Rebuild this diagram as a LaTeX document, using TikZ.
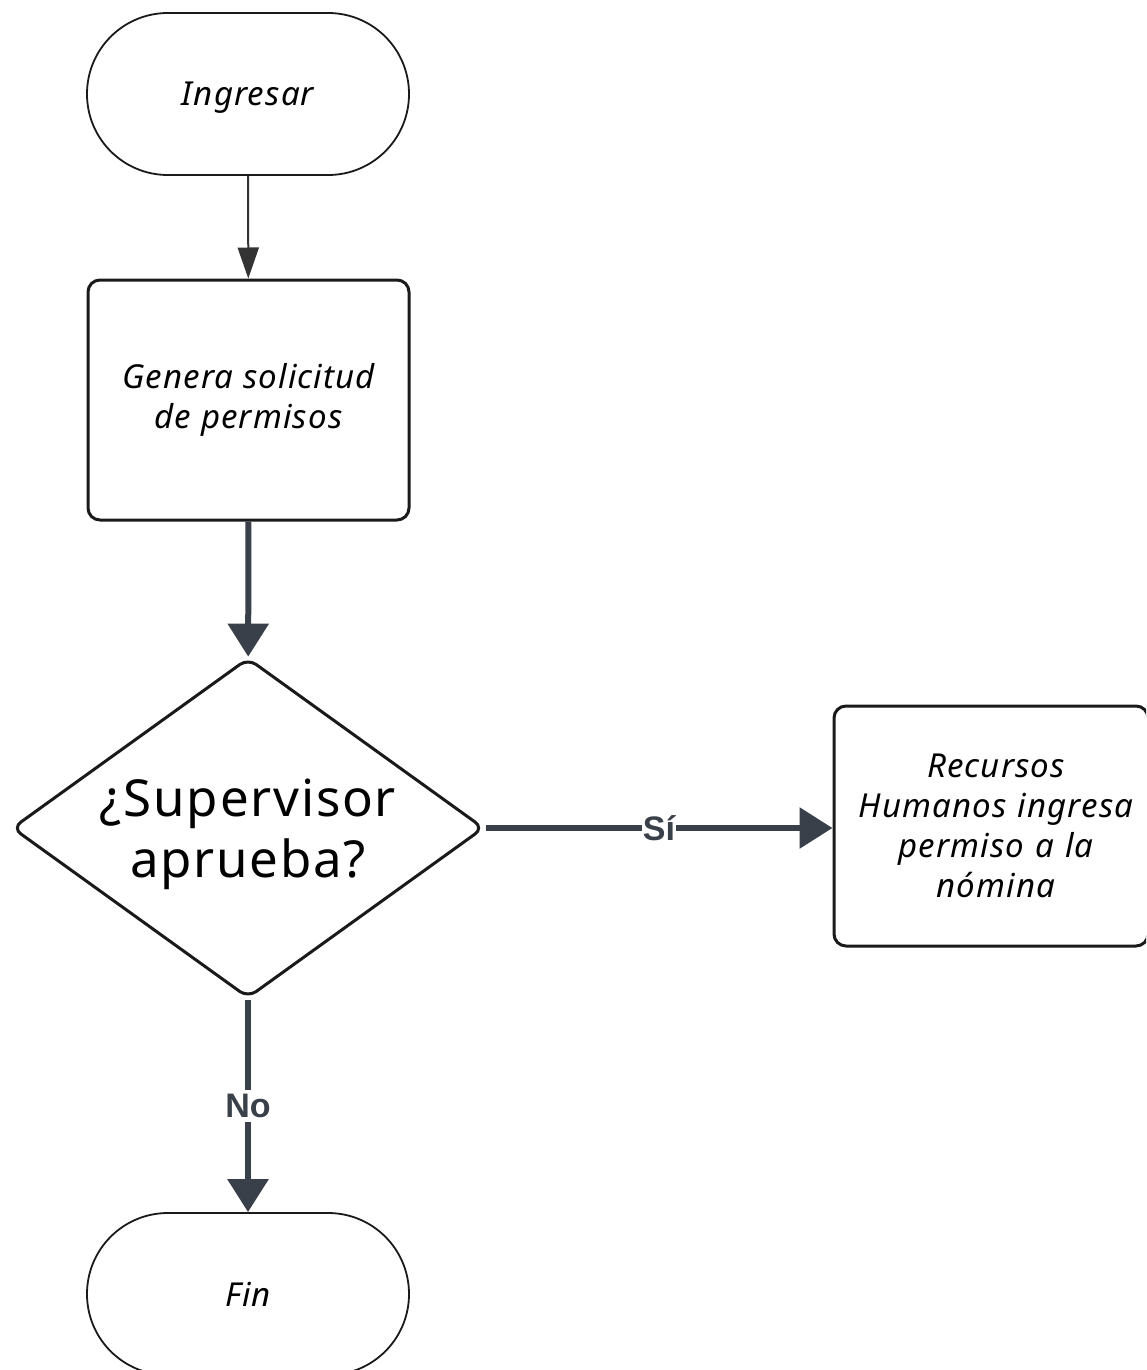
\documentclass[tikz,border=0pt]{standalone}
\usepackage{fontspec}
\setmainfont{Noto Sans}[LetterSpace=3.5]
\newfontfamily\labelfont{Liberation Sans}
\usetikzlibrary{arrows.meta,shapes.geometric}

\definecolor{edge}{HTML}{1A1A1A}
\definecolor{flow}{HTML}{3A4049}
\definecolor{thinflow}{HTML}{333333}

\tikzset{
  terminal/.style={draw=edge, line width=1.8pt, rectangle, rounded corners=80.9pt,
    minimum width=322pt, minimum height=162pt, inner sep=0pt, align=center,
    text depth=0pt, font=\fontsize{33}{40}\selectfont\itshape},
  process/.style={draw=edge, line width=3pt, rectangle, rounded corners=12pt,
    inner sep=0pt, align=center, font=\fontsize{33}{40}\selectfont\itshape},
  decision/.style={draw=edge, line width=3pt, diamond, rounded corners=10pt,
    shape aspect=1.39, minimum width=472pt, minimum height=340pt, inner sep=0pt,
    text depth=0pt, align=center, font=\fontsize{51}{61}\selectfont},
  thinarrow/.style={draw=thinflow, line width=2pt,
    -{Triangle[width=21pt,length=31pt]}},
  thickarrow/.style={draw=flow, line width=6pt,
    -{Triangle[width=40pt,length=33pt]}},
  flowlabel/.style={fill=white, text=flow, inner xsep=1pt, inner ysep=4pt,
    font=\labelfont\fontsize{34}{40}\selectfont\bfseries}
}

\begin{document}
\begin{tikzpicture}[x=1pt, y=-1pt]
  \useasboundingbox (0,0) rectangle (1146,1370);
  \clip (0,0) rectangle (1146,1370);

  % flow steps
  \node[terminal] (ing) at (248,94) {Ingresar};
  \node[process, minimum width=321pt, minimum height=240pt] (gen) at (248.5,400)
    {Genera solicitud\\de permisos};
  \node[decision] (dec) at (248,828) {¿Supervisor\\aprueba?};
  \node[process, minimum width=314pt, minimum height=240pt, text width=300pt] (rh) at (991,826)
    {\hspace*{10pt}Recursos\\\hspace*{10pt}Humanos ingresa\\\hspace*{10pt}permiso a la\\\hspace*{10pt}nómina};
  \node[terminal] (fin) at (248,1294) {Fin};

  % connectors
  \draw[thinarrow] (ing) -- (gen);
  \draw[thickarrow] (gen) -- (dec);
  \draw[thickarrow] (dec.east) -- (dec.east -| rh.west)
    node[flowlabel, midway] (si) {Sí};
  \draw[thickarrow] (dec) -- (fin)
    node[flowlabel, midway] (no) {No};
\end{tikzpicture}
\end{document}
